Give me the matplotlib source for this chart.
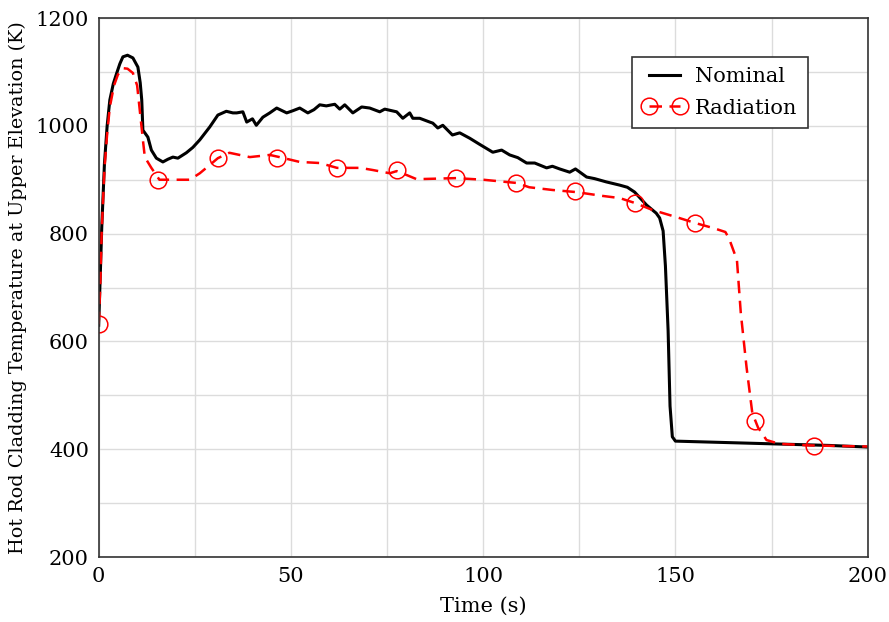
import matplotlib.pyplot as plt
from matplotlib.lines import Line2D

# Nominal case
t_nom = [0, 0.4, 0.8, 1.5, 2.2, 2.9, 3.8, 4.7, 5.5, 6.3, 7.5, 8.9, 10.2, 10.8, 11.2, 11.5,
         12.8, 13.7, 15, 16.7, 18, 19.3, 20.6, 22.8, 24.5, 26.3, 28.9, 31, 33.2, 34.9,
         35.9, 37.5, 38.5, 40, 41, 42.7, 44.5, 46.3, 48.9, 50.5, 52.3, 54.4, 56, 57.5,
         59.2, 61.4, 62.7, 64, 66.1, 68.4, 70.5, 73.1, 74.4, 77.5, 79.1, 80.9, 81.7,
         83.5, 86.1, 86.9, 88.2, 89.5, 92, 93.9, 96.5, 99, 102.5, 104.8, 106.9, 109,
         111.3, 113.4, 116.5, 118, 119.9, 122.5, 124, 126.9, 129, 132, 135.5, 137.5,
         139.4, 142.5, 145, 145.9, 146.8, 147.4, 148.1, 148.6, 149.2, 150, 155, 160,
         170, 180, 190, 200]
T_nom = [630, 720, 812, 930, 1000, 1048, 1078, 1098, 1115, 1128, 1131, 1126, 1109, 1080,
         1048, 992, 979, 955, 940, 933, 938, 942, 940, 950, 960, 974, 998, 1020, 1027,
         1024, 1024, 1026, 1007, 1013, 1001, 1016, 1024, 1033, 1024, 1028, 1033, 1024,
         1030, 1039, 1037, 1040, 1031, 1039, 1024, 1035, 1033, 1026, 1031, 1026, 1014,
         1024, 1014, 1014, 1007, 1005, 996, 1001, 983, 987, 977, 966, 951, 955, 946,
         941, 931, 931, 922, 925, 920, 914, 920, 905, 902, 896, 890, 886, 877, 853, 838,
         829, 805, 740, 620, 480, 423, 415, 414, 413, 411, 409, 407, 404]

# Radiation case
t_rad = [0, 0.4, 0.8, 1.5, 2.2, 2.9, 4, 5, 6.3, 7.5, 8.9, 10, 10.6, 11.5, 12, 13.7, 15.8,
         20, 23.7, 26.3, 28.5, 31, 34, 39.3, 44.5, 47, 52.3, 57.5, 62, 68, 71.3, 75.7,
         77.5, 80, 82.7, 93, 100, 108.7, 112, 118, 124.3, 131, 135.5, 139.4, 144, 151,
         155, 160, 163, 164, 166, 167, 168.5, 170, 171.5, 173.7, 177, 185, 200]
T_rad = [632, 700, 807, 920, 985, 1035, 1075, 1095, 1107, 1106, 1098, 1075, 1035, 974,
         942, 922, 900, 900, 900, 912, 925, 940, 950, 942, 946, 942, 933, 931, 922, 922,
         918, 912, 916, 909, 901, 903, 900, 894, 886, 881, 877, 870, 866, 857, 844, 829,
         820, 810, 803, 790, 751, 653, 552, 467, 440, 417, 410, 407, 405]

# circle markers along the radiation curve
t_mk = [0, 15.5, 31, 46.5, 62, 77.5, 93, 108.5, 124, 139.5, 155, 170.6, 186]
T_mk = [632, 900, 940, 940, 922, 918, 903, 893, 880, 857, 820, 452, 406]

plt.rcParams['font.family'] = ['DejaVu Serif']

fig = plt.figure(figsize=(8.89, 6.22), dpi=100)
ax = fig.add_axes([0.111, 0.1045, 0.865, 0.8665])

ax.plot(t_nom, T_nom, color='black', lw=2.2)
ax.plot(t_rad, T_rad, color='red', lw=1.8, ls=(0, (5, 3)))
ax.plot(t_mk, T_mk, ls='none', marker='o', ms=12, mfc='none', mec='red', mew=1.1)

ax.set_xlim(0, 200)
ax.set_ylim(200, 1200)
ax.set_xticks(range(0, 201, 50))
ax.set_xticks(range(0, 201, 25), minor=True)
ax.set_yticks(range(200, 1201, 200))
ax.set_yticks(range(200, 1201, 100), minor=True)
ax.grid(True, which='both', color='#dcdcdc', lw=1)
ax.set_axisbelow(True)
ax.tick_params(which='both', length=0, labelsize=15, pad=7)
for s in ax.spines.values():
    s.set_color('#333333')
    s.set_linewidth(1.2)

ax.set_xlabel('Time (s)', fontsize=15, labelpad=8)
ax.set_ylabel('Hot Rod Cladding Temperature at Upper Elevation (K)', fontsize=13.8,
              labelpad=6)

handles = [Line2D([], [], color='black', lw=2.2),
           Line2D([], [], color='red', lw=1.8, ls=(0, (5, 3)), marker='o', ms=12,
                  mfc='none', mec='red', mew=1.1)]
leg = ax.legend(handles, ['Nominal', 'Radiation'], loc='upper right',
                bbox_to_anchor=(0.922, 0.928), borderaxespad=0, fontsize=15,
                numpoints=2, fancybox=False, framealpha=1, edgecolor='#333333',
                handlelength=2.1, handletextpad=0.4, borderpad=0.5,
                labelspacing=0.6)
leg.get_frame().set_linewidth(1.2)

fig.savefig('out.png', dpi=100)
